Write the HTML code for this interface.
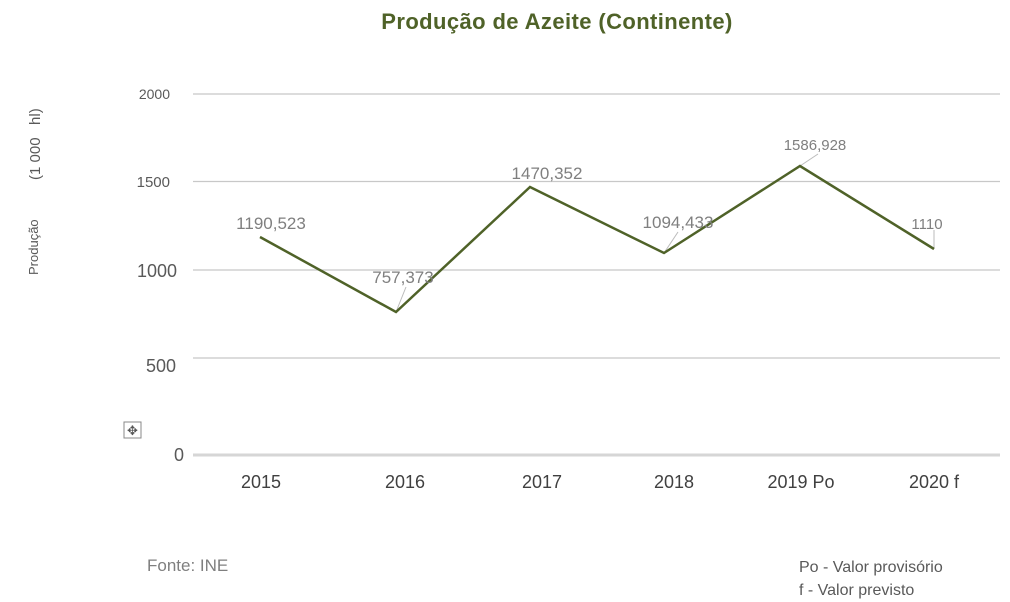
<!DOCTYPE html>
<html><head><meta charset="utf-8"><style>
html,body{margin:0;padding:0;background:#fff;}
svg{display:block;font-family:"Liberation Sans",sans-serif;}
</style></head><body>
<svg width="1010" height="602" viewBox="0 0 1010 602">
<rect width="1010" height="602" fill="#fff"/>
<text x="557" y="29" text-anchor="middle" font-size="22" font-weight="bold" fill="#4f6228" letter-spacing="0.4">Produção de Azeite (Continente)</text>
<g stroke="#c8c8c8" stroke-width="1.3">
<line x1="193" y1="94" x2="1000" y2="94"/>
<line x1="193" y1="181.5" x2="1000" y2="181.5"/>
<line x1="193" y1="270" x2="1000" y2="270"/>
<line x1="193" y1="358" x2="1000" y2="358"/>
</g>
<line x1="193" y1="455" x2="1000" y2="455" stroke="#d6d6d6" stroke-width="3"/>
<g fill="#595959" text-anchor="end">
<text x="170" y="99" font-size="14">2000</text>
<text x="170" y="187" font-size="15">1500</text>
<text x="177" y="277" font-size="18">1000</text>
<text x="176" y="372" font-size="18">500</text>
<text x="184" y="461" font-size="18">0</text>
</g>
<g fill="#404040" font-size="18" text-anchor="middle">
<text x="261" y="488">2015</text>
<text x="405" y="488">2016</text>
<text x="542" y="488">2017</text>
<text x="674" y="488">2018</text>
<text x="801" y="488">2019 Po</text>
<text x="934" y="488">2020 f</text>
</g>
<text transform="translate(38,275) rotate(-90)" font-size="13" fill="#595959">Produção</text>
<text transform="translate(40,180) rotate(-90)" font-size="15" fill="#595959" xml:space="preserve">(1 000   hl)</text>
<rect x="124" y="422" width="17" height="16" fill="none" stroke="#888"/>
<text x="132.5" y="435" font-size="13" text-anchor="middle" fill="#555">✥</text>
<g stroke="#bbb" stroke-width="1">
<line x1="396" y1="312" x2="406" y2="287"/>
<line x1="664" y1="253" x2="678" y2="232"/>
<line x1="800" y1="166" x2="818" y2="154"/>
<line x1="934" y1="249" x2="934" y2="230"/>
</g>
<polyline points="260,237 396,312 530,187 664,253 800,166 934,249" fill="none" stroke="#4f6228" stroke-width="2.5" stroke-linejoin="miter"/>
<g fill="#7f7f7f" font-size="17" text-anchor="middle">
<text x="271" y="229">1190,523</text>
<text x="403" y="283">757,373</text>
<text x="547" y="179">1470,352</text>
<text x="678" y="228">1094,433</text>
<text x="815" y="150" font-size="15">1586,928</text>
<text x="927" y="229" font-size="15">1110</text>
</g>
<text x="147" y="571" font-size="17" fill="#7f7f7f">Fonte: INE</text>
<text x="799" y="572" font-size="16" fill="#595959">Po - Valor provisório</text>
<text x="799" y="595" font-size="16" fill="#595959">f - Valor previsto</text>
</svg>
</body></html>
